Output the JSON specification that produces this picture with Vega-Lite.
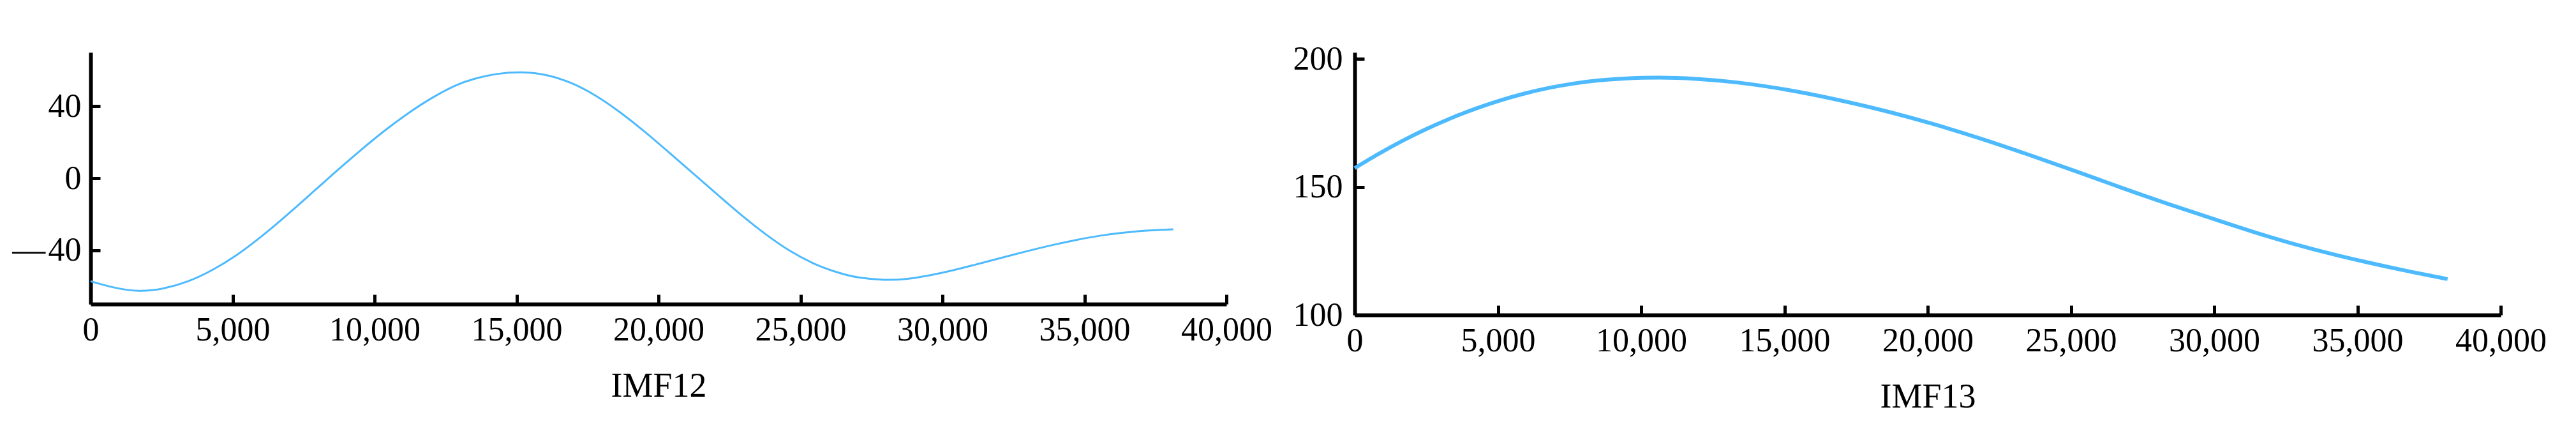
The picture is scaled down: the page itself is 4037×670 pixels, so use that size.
{
  "$schema": "https://vega.github.io/schema/vega-lite/v6.json",
  "background": "white",
  "padding": {"left": 18, "top": 66, "right": 5, "bottom": 5},
  "config": {
    "view": {"stroke": null},
    "axis": {
      "domainColor": "black", "domainWidth": 6,
      "tickColor": "black", "tickWidth": 5, "tickSize": -15,
      "labelFont": "Liberation Serif", "labelFontSize": 52, "labelColor": "black",
      "titleFont": "Liberation Serif", "titleFontSize": 54, "titleFontWeight": "normal", "titleColor": "black",
      "grid": false, "labelPadding": 30, "titlePadding": 35,
      "labelFlush": false, "labelOverlap": false
    },
    "concat": {"spacing": 32}
  },
  "datasets": {
    "imf12": [
      {"x": 0, "y": -57.3}, {"x": 861, "y": -61.2}, {"x": 1719, "y": -63.2}, {"x": 2580, "y": -61.6},
      {"x": 3438, "y": -57.7}, {"x": 4301, "y": -51.2}, {"x": 5160, "y": -42.9}, {"x": 6020, "y": -32.5},
      {"x": 6881, "y": -21.0}, {"x": 7740, "y": -8.9}, {"x": 8600, "y": 3.2}, {"x": 9461, "y": 15.0},
      {"x": 10319, "y": 26.2}, {"x": 11180, "y": 36.3}, {"x": 12040, "y": 45.1}, {"x": 12899, "y": 52.2},
      {"x": 13483, "y": 55.4}, {"x": 14343, "y": 58.4}, {"x": 15202, "y": 59.3}, {"x": 16062, "y": 57.8},
      {"x": 16921, "y": 53.4}, {"x": 17784, "y": 46.3}, {"x": 18643, "y": 36.9}, {"x": 19503, "y": 26.2},
      {"x": 20364, "y": 14.4}, {"x": 21223, "y": 2.6}, {"x": 22083, "y": -9.2}, {"x": 22944, "y": -21.0},
      {"x": 23803, "y": -31.7}, {"x": 24663, "y": -41.1}, {"x": 25524, "y": -48.2}, {"x": 26382, "y": -52.9},
      {"x": 26966, "y": -55.3}, {"x": 27998, "y": -56.8}, {"x": 28685, "y": -56.3}, {"x": 29546, "y": -54.1},
      {"x": 30404, "y": -51.2}, {"x": 31267, "y": -47.6}, {"x": 32126, "y": -44.1}, {"x": 32987, "y": -40.5},
      {"x": 33847, "y": -37.2}, {"x": 34706, "y": -34.3}, {"x": 35566, "y": -31.8}, {"x": 36427, "y": -30.1},
      {"x": 37285, "y": -29.0}, {"x": 38128, "y": -28.4}
    ],
    "imf13": [
      {"x": 0, "y": 157.3}, {"x": 808, "y": 162.8}, {"x": 1659, "y": 168.0}, {"x": 2512, "y": 172.7},
      {"x": 3363, "y": 176.9}, {"x": 4218, "y": 180.6}, {"x": 5069, "y": 183.8}, {"x": 5922, "y": 186.5},
      {"x": 6775, "y": 188.7}, {"x": 7626, "y": 190.4}, {"x": 8479, "y": 191.6}, {"x": 9332, "y": 192.3},
      {"x": 10610, "y": 192.8}, {"x": 11888, "y": 192.3}, {"x": 13300, "y": 191.0}, {"x": 15021, "y": 188.2},
      {"x": 16726, "y": 184.4}, {"x": 18432, "y": 180.0}, {"x": 20138, "y": 174.8}, {"x": 21842, "y": 169.0},
      {"x": 23546, "y": 162.5}, {"x": 25251, "y": 155.8}, {"x": 26670, "y": 150.0}, {"x": 28386, "y": 143.3},
      {"x": 30089, "y": 137.1}, {"x": 31795, "y": 130.8}, {"x": 33501, "y": 125.4}, {"x": 35205, "y": 120.8},
      {"x": 36910, "y": 116.7}, {"x": 38145, "y": 114.0}
    ]
  },
  "hconcat": [
    {
      "width": 1780, "height": 394,
      "data": {"name": "imf12"},
      "mark": {"type": "line", "strokeWidth": 3, "interpolate": "basis", "color": "#4dbafd"},
      "encoding": {
        "x": {"field": "x", "type": "quantitative",
          "scale": {"domain": [0, 40000], "nice": false},
          "axis": {"title": "IMF12", "values": [0, 5000, 10000, 15000, 20000, 25000, 30000, 35000, 40000], "format": ",d"}},
        "y": {"field": "y", "type": "quantitative",
          "scale": {"domain": [-70, 70], "nice": false, "zero": false},
          "axis": {"title": null, "values": [-40, 0, 40], "labelPadding": 30,
            "labelExpr": "datum.value < 0 ? '\u2014\u200a' + format(-datum.value, 'd') : datum.label"}}
      }
    },
    {
      "width": 1796, "height": 411,
      "data": {"name": "imf13"},
      "mark": {"type": "line", "strokeWidth": 6, "interpolate": "basis", "color": "#4dbafd"},
      "encoding": {
        "x": {"field": "x", "type": "quantitative",
          "scale": {"domain": [0, 40000], "nice": false},
          "axis": {"title": "IMF13", "values": [0, 5000, 10000, 15000, 20000, 25000, 30000, 35000, 40000], "format": ",d"}},
        "y": {"field": "y", "type": "quantitative",
          "scale": {"domain": [100, 202.5], "nice": false, "zero": false},
          "axis": {"title": null, "values": [100, 150, 200], "labelPadding": 34}}
      }
    }
  ]
}
